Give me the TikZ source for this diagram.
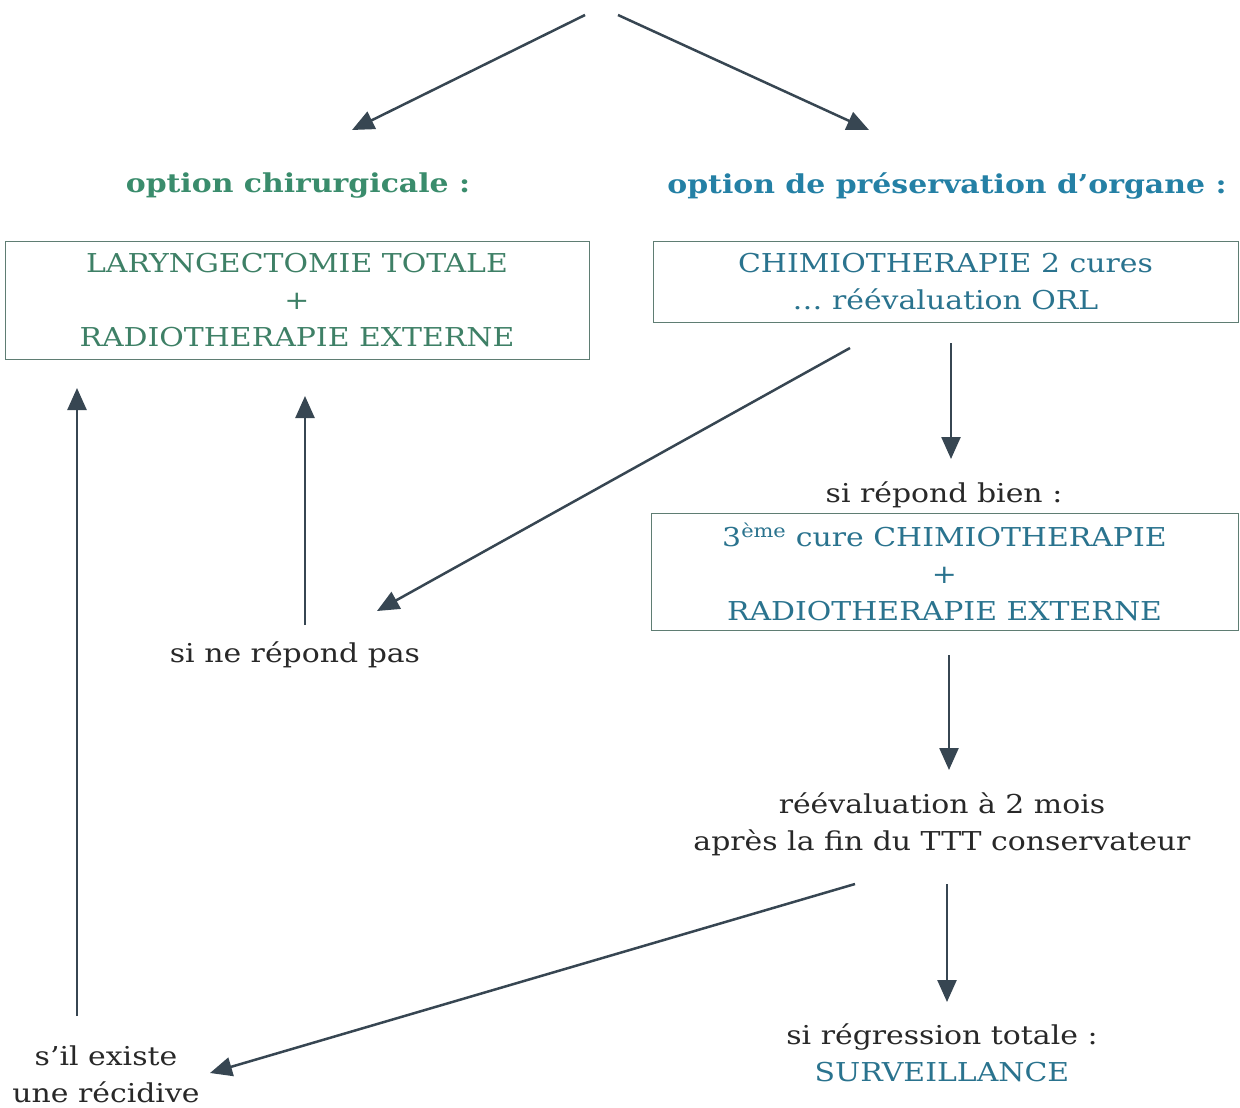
\documentclass[tikz,border=0pt]{standalone}
\usepackage{fontspec}
\setmainfont[FakeStretch=1.15]{DejaVu Serif}
\usetikzlibrary{arrows.meta}
\definecolor{greenhead}{RGB}{58,140,108}
\definecolor{bluehead}{RGB}{36,128,165}
\definecolor{greenbox}{RGB}{62,128,102}
\definecolor{bluebox}{RGB}{42,115,142}
\definecolor{txtgray}{RGB}{40,40,40}
\definecolor{arrcol}{RGB}{55,70,82}
\definecolor{boxline}{RGB}{95,125,115}
\begin{document}
\begin{tikzpicture}[x=1pt,y=-1pt,
  plain/.style={font=\fontsize{26}{37}\selectfont, text=txtgray, align=center, inner sep=0pt},
  head/.style={font=\fontsize{26}{30}\selectfont\bfseries, align=center, inner sep=0pt},
  boxed/.style={draw=boxline, line width=1pt, font=\fontsize{26}{37}\selectfont, align=center, inner sep=0pt},
  conn/.style={draw=arrcol, line width=2.5pt, -{Triangle[length=22pt,width=19pt]}}]
\useasboundingbox (0,0) rectangle (1240,1108);

% headings
\node[head, text=greenhead] (hchir) at (298,186) {option chirurgicale :};
\node[head, text=bluehead] (hpres) at (947,186) {option de préservation d’organe :};

% boxes
\node[boxed, text=greenbox, minimum width=584pt, minimum height=118pt] (laryn) at (297,300)
  {LARYNGECTOMIE TOTALE\\+\\RADIOTHERAPIE EXTERNE};
\node[boxed, text=bluebox, minimum width=585pt, minimum height=81pt] (chimio) at (945.5,281.5)
  {CHIMIOTHERAPIE 2 cures\\… réévaluation ORL};
\node[plain] (bien) at (944,495) {si répond bien :};
\node[boxed, text=bluebox, minimum width=587pt, minimum height=117pt] (cure3) at (944.5,571.5)
  {3\textsuperscript{ème} cure CHIMIOTHERAPIE\\+\\RADIOTHERAPIE EXTERNE};

\node[plain] (pas) at (295,655) {si ne répond pas};
\node[plain] (reeval) at (942,824) {réévaluation à 2 mois\\après la fin du TTT conservateur};
\node[plain] (regr) at (942,1053) {si régression totale :\\\textcolor{bluebox}{SURVEILLANCE}};
\node[plain] (recid) at (106,1074) {s’il existe\\une récidive};

% free ends / endpoints
\coordinate (topL) at (585,15);
\coordinate (topR) at (618,15);
\coordinate (tipL) at (352,130);
\coordinate (tipR) at (869,130);
\coordinate (c1) at (850,348);
\coordinate (c1t) at (377,611);
\coordinate (d1) at (951,343);
\coordinate (d1t) at (951,459);
\coordinate (u1) at (305,625);
\coordinate (u1t) at (305,396);
\coordinate (u2) at (77,1016);
\coordinate (u2t) at (77,388);
\coordinate (d2) at (949,655);
\coordinate (d2t) at (949,770);
\coordinate (e1) at (855,884);
\coordinate (e1t) at (210,1073);
\coordinate (d3) at (947,884);
\coordinate (d3t) at (947,1002);

\draw[conn] (topL) -- (tipL);
\draw[conn] (topR) -- (tipR);
\draw[conn] (c1) -- (c1t);
\draw[conn] (d1) -- (d1t);
\draw[conn] (u1) -- (u1t);
\draw[conn] (u2) -- (u2t);
\draw[conn] (d2) -- (d2t);
\draw[conn] (e1) -- (e1t);
\draw[conn] (d3) -- (d3t);
\end{tikzpicture}
\end{document}
